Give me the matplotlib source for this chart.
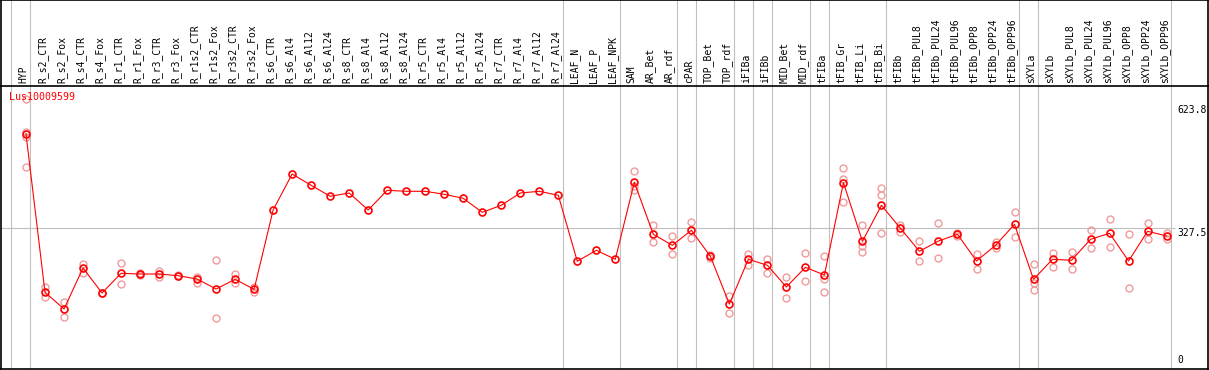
import matplotlib
matplotlib.use('Agg')
import matplotlib.pyplot as plt

# sample names across the top
labels = ['HYP',
          'R_s2_CTR', 'R_s2_Fox', 'R_s4_CTR', 'R_s4_Fox', 'R_r1_CTR', 'R_r1_Fox',
          'R_r3_CTR', 'R_r3_Fox', 'R_r1s2_CTR', 'R_r1s2_Fox', 'R_r3s2_CTR', 'R_r3s2_Fox',
          'R_s6_CTR', 'R_s6_Al4', 'R_s6_Al12', 'R_s6_Al24', 'R_s8_CTR', 'R_s8_Al4',
          'R_s8_Al12', 'R_s8_Al24', 'R_r5_CTR', 'R_r5_Al4', 'R_r5_Al12', 'R_r5_Al24',
          'R_r7_CTR', 'R_r7_Al4', 'R_r7_Al12', 'R_r7_Al24',
          'LEAF_N', 'LEAF_P', 'LEAF_NPK', 'SAM', 'AR_Bet', 'AR_rdf', 'cPAR',
          'TOP_Bet', 'TOP_rdf', 'iFIBa', 'iFIBb', 'MID_Bet', 'MID_rdf', 'tFIBa',
          'tFIB_Gr', 'tFIB_Li', 'tFIB_Bi', 'tFIBb', 'tFIBb_PUL8', 'tFIBb_PUL24',
          'tFIBb_PUL96', 'tFIBb_OPP8', 'tFIBb_OPP24', 'tFIBb_OPP96', 'sXYLa', 'sXYLb',
          'sXYLb_PUL8', 'sXYLb_PUL24', 'sXYLb_PUL96', 'sXYLb_OPP8', 'sXYLb_OPP24',
          'sXYLb_OPP96']

# mean expression per sample
means = [554.2,
         173.8, 133.6, 232.2, 172.1, 219.4, 217.7, 217.7, 213.7, 205.7, 181.7, 205.0, 181.0,
         371.6, 458.1, 430.9, 404.5, 412.4, 371.6, 418.9, 416.5, 416.5, 409.3, 399.7, 366.0,
         382.8, 412.4, 416.5, 406.9,
         248.3, 274.7, 253.1, 438.1, 313.1, 286.7, 322.8, 260.3, 145.6, 253.1, 238.6,
         186.5, 233.8, 215.3, 437.2, 296.3, 382.8, 327.5, 272.3, 297.0, 313.1, 249.0,
         286.7, 337.2, 205.0, 253.1, 250.7, 301.1, 315.6, 249.0, 320.4, 309.1]

# individual replicates
reps = [[638.1, 559.7, 546.3, 474.9],
        [185.8, 163.2], [149.7, 113.7], [241.8, 220.9], [172.0, 173.0], [243.5, 193.0],
        [216.0, 219.0], [224.0, 211.3], [212.0, 216.0], [211.3, 196.8], [251.4, 111.3],
        [217.0, 195.4], [187.2, 175.0],
        [], [], [], [], [], [], [], [], [], [], [], [], [], [], [], [],
        [], [], [],
        [464.6, 429.2, 420.5], [335.5, 293.9], [308.3, 265.1], [342.7, 305.0],
        [256.2, 264.4], [164.9, 123.3], [265.1, 239.4], [253.8, 220.9],
        [209.8, 159.3], [267.5, 200.2], [260.3, 206.4, 175.2],
        [471.8, 446.8, 390.1], [334.8, 285.0, 269.9], [423.7, 408.3, 315.6],
        [336.2, 319.4], [297.8, 248.3], [339.6, 256.2], [310.0, 316.0],
        [265.1, 230.5], [279.5, 294.0], [366.0, 307.4],
        [241.0, 196.1, 178.6], [267.5, 235.3], [269.9, 230.5], [322.8, 279.5],
        [349.2, 281.9], [313.1, 183.4], [340.3, 302.6], [315.6, 301.1]]

# sample index after which a grey separator is drawn
group_ends = [-1, 0, 28, 31, 34, 35, 37, 38, 39, 41, 42, 45, 52, 53, 60]
gene_id = 'Lus10009599'
y_marks = [623.8, 327.5]

# pixel layout of the original
W, H = 1209, 370
col0, step = 26.0, 19.01
y_zero, px_per_unit = 364.6, 0.4161
plot_top, plot_bottom = 85.7, 368.5
left_px, right_px = 0.5, 1207.5
grey = '#c0c0c0'
mono = 'DejaVu Sans Mono'

fig = plt.figure(figsize=(W / 100, H / 100), dpi=100, facecolor='w')
xlim = ((left_px - col0) / step, (right_px - col0) / step)

ax = fig.add_axes([left_px / W, (H - plot_bottom) / H,
                   (right_px - left_px) / W, (plot_bottom - plot_top) / H])
ax.set_xlim(*xlim)
ax.set_ylim((y_zero - plot_bottom) / px_per_unit, (y_zero - plot_top) / px_per_unit)

hdr = fig.add_axes([left_px / W, (H - plot_top) / H,
                    (right_px - left_px) / W, plot_top / H])
hdr.set_xlim(*xlim)
hdr.set_ylim(0, 1)

for a in (ax, hdr):
    a.set_xticks([])
    a.set_yticks([])
    for s in a.spines.values():
        s.set_color('k')
        s.set_linewidth(1.2)
    for g in group_ends:
        a.axvline(g + 0.23, color=grey, lw=0.8, zorder=1)
ax.spines['top'].set_visible(False)

# header labels
for i, lab in enumerate(labels):
    hdr.text(i - 0.13, 0.03, lab, rotation=90, ha='center', va='bottom',
             fontsize=7, family=mono)

# grid line at middle value
ax.hlines(327.5, xlim[0], (1175 - col0) / step, color=grey, lw=0.8, zorder=1)

# replicates
for i, r in enumerate(reps):
    ax.plot([i] * len(r), r, 'o', mfc='none', mec='#f09a9a', ms=5, mew=1, zorder=2)

# means
ax.plot(range(len(means)), means, '-o', color='red', lw=0.8, mfc='none', mec='red',
        ms=5, mew=1.2, zorder=3)

# right-hand value labels
xl = (1177 - col0) / step
for v in y_marks:
    ax.text(xl, v, str(v), ha='left', va='top', fontsize=7, family=mono)
ax.text(xl, 0, '0', ha='left', va='bottom', fontsize=7, family=mono)

ax.text(0.007, 0.96, gene_id, transform=ax.transAxes, color='red', ha='left',
        va='center', fontsize=7.2, family=mono)

plt.savefig('out.png', dpi=100)
plt.close()
